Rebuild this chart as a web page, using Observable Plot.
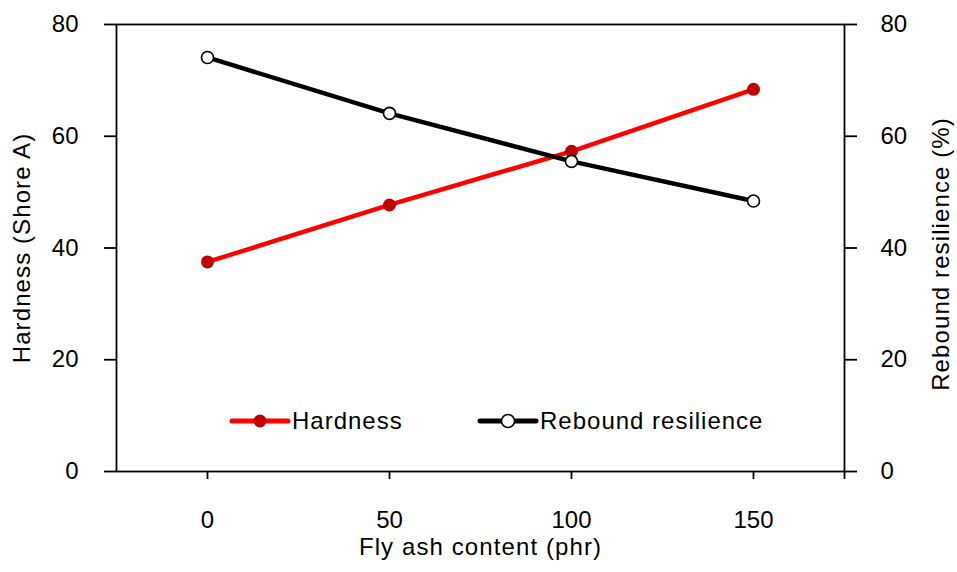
<!DOCTYPE html>
<html>
<head>
<meta charset="utf-8">
<script src="https://cdn.jsdelivr.net/npm/d3@7"></script>
<script src="https://cdn.jsdelivr.net/npm/@observablehq/plot@0.6"></script>
<style>
  body { margin: 0; background: #fff; }
  #chart svg { font-family: "Liberation Sans", Arial, sans-serif; }
  #chart svg text { font-size: 24px !important; }
  #chart svg g[aria-label="text"] text { letter-spacing: 1.1px; }
</style>
</head>
<body>
<div id="chart"></div>
<script>
const flyAsh = [0, 50, 100, 150];
const hardness = [37.5, 47.7, 57.3, 68.4];
const rebound = [74.1, 64.1, 55.5, 48.4];
const yTicks = [0, 20, 40, 60, 80];
const xTicks = [0, 50, 100, 150];
const seriesNames = ["Hardness", "Rebound resilience"];

const hData = flyAsh.map((x, i) => ({x, y: hardness[i]}));
const rData = flyAsh.map((x, i) => ({x, y: rebound[i]}));

const RED = "#ff0000", DARKRED = "#c00000";

function legend(index, scales, values, dims) {
  const g = d3.create("svg:g");
  const y = dims.height - dims.marginBottom - 50;
  const items = [
    {name: seriesNames[0], x0: dims.marginLeft + 116, stroke: RED, fill: DARKRED, dstroke: "none"},
    {name: seriesNames[1], x0: dims.marginLeft + 364, stroke: "#000", fill: "#fff", dstroke: "#000"}
  ];
  for (const it of items) {
    g.append("line").attr("x1", it.x0).attr("x2", it.x0 + 56).attr("y1", y).attr("y2", y)
      .attr("stroke", it.stroke).attr("stroke-width", 5).attr("stroke-linecap", "round");
    g.append("circle").attr("cx", it.x0 + 28).attr("cy", y).attr("r", 6.5)
      .attr("fill", it.fill).attr("stroke", it.dstroke).attr("stroke-width", 1.5);
    g.append("text").attr("x", it.x0 + 60).attr("y", y).attr("dy", "0.35em")
      .attr("text-anchor", "start").attr("letter-spacing", "1px").attr("fill", "#000").text(it.name);
  }
  return g.node();
}

const plot = Plot.plot({
  width: 957,
  height: 572,
  marginLeft: 116,
  marginRight: 113,
  marginTop: 24,
  marginBottom: 101,
  style: {fontFamily: "Liberation Sans, Arial, sans-serif", color: "#000", background: "#fff"},
  x: {domain: [-25, 175]},
  y: {domain: [0, 80]},
  marks: [
    Plot.frame({stroke: "#000", strokeWidth: 1.8}),
    Plot.axisY(yTicks, {anchor: "left", tickSize: 12, tickPadding: 26, strokeWidth: 1.8, label: null}),
    Plot.axisY(yTicks, {anchor: "right", tickSize: 12, tickPadding: 24, strokeWidth: 1.8, label: null}),
    Plot.axisX(xTicks, {anchor: "bottom", tickSize: 8, tickPadding: 31, strokeWidth: 1.8, label: null}),
    Plot.axisX([175], {anchor: "bottom", tickSize: 8, strokeWidth: 1.8, label: null, tickFormat: () => ""}),
    Plot.text(["Fly ash content (phr)"], {frameAnchor: "bottom", dy: 83, textAnchor: "middle"}),
    Plot.text(["Hardness (Shore A)"], {frameAnchor: "left", dx: -94, rotate: -90, textAnchor: "middle"}),
    Plot.text(["Rebound resilience (%)"], {frameAnchor: "right", dx: 97, dy: 6, rotate: -90, textAnchor: "middle"}),
    Plot.line(hData, {x: "x", y: "y", stroke: RED, strokeWidth: 4.5}),
    Plot.dot(hData, {x: "x", y: "y", r: 6.5, fill: DARKRED}),
    Plot.line(rData, {x: "x", y: "y", stroke: "#000", strokeWidth: 4.5}),
    Plot.dot(rData, {x: "x", y: "y", r: 6, fill: "#fff", stroke: "#000", strokeWidth: 1.6}),
    legend
  ]
});
document.getElementById("chart").append(plot);
</script>
</body>
</html>
